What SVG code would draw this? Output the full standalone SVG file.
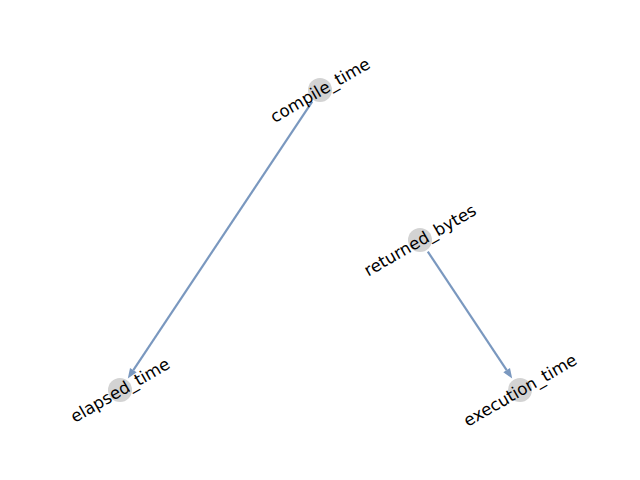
<svg xmlns="http://www.w3.org/2000/svg" width="640" height="480" viewBox="0 0 640 480">
<style>
.node circle{fill:#d3d3d3}
.node text{font-family:"DejaVu Sans",sans-serif;font-size:16.7px;fill:#000;text-anchor:middle;dominant-baseline:central}
.edge{stroke:#7a98bf;stroke-width:2.2;fill:none}
</style>
<defs>
<marker id="ah" markerUnits="userSpaceOnUse" markerWidth="12" markerHeight="10" refX="0" refY="0" viewBox="0 -5 12 10" orient="auto" overflow="visible">
<path d="M0,-4 L10,0 L0,4 z" fill="#7a98bf"/>
</marker>
</defs>
<rect width="640" height="480" fill="#fff"/>
<g id="connectors">
<line class="edge" x1="312.2" y1="101.6" x2="133.35" y2="370.1" marker-end="url(#ah)"/>
<line class="edge" x1="427.8" y1="251.6" x2="506.65" y2="370.1" marker-end="url(#ah)"/>
</g>
<g id="node-compile_time" class="node">
<circle cx="320" cy="90" r="12"/>
<text x="320" y="90" transform="rotate(-30 320 90)">compile_time</text>
</g>
<g id="node-elapsed_time" class="node">
<circle cx="120" cy="390" r="12"/>
<text x="120" y="390" transform="rotate(-30 120 390)">elapsed_time</text>
</g>
<g id="node-returned_bytes" class="node">
<circle cx="420" cy="240" r="12"/>
<text x="420" y="240" transform="rotate(-30 420 240)">returned_bytes</text>
</g>
<g id="node-execution_time" class="node">
<circle cx="520" cy="390" r="12"/>
<text x="520" y="390" transform="rotate(-30 520 390)">execution_time</text>
</g>
</svg>
